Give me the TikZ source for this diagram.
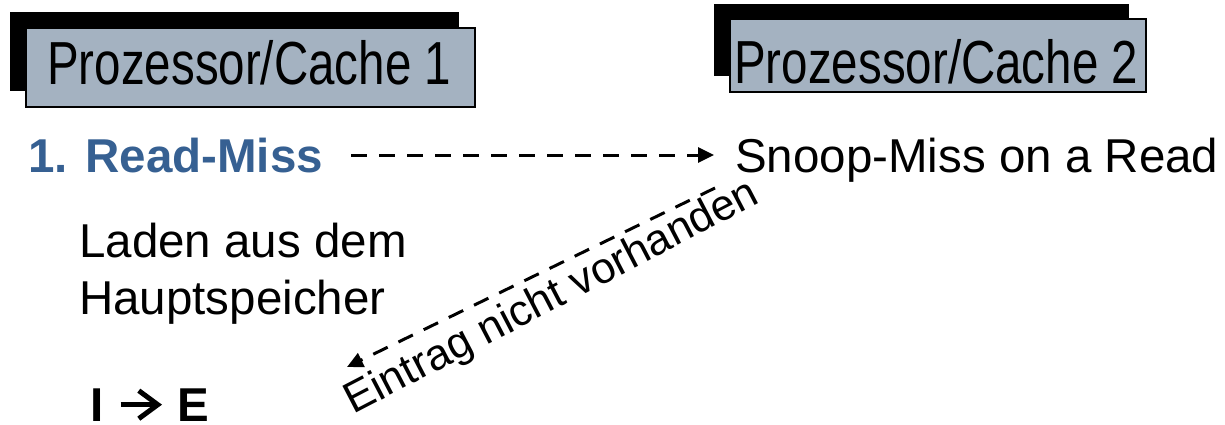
\documentclass[tikz,border=0pt]{standalone}
\usepackage{fontspec}
\setmainfont{Liberation Sans}
\usetikzlibrary{arrows.meta}
\definecolor{boxgray}{RGB}{164,178,193}
\definecolor{headblue}{RGB}{54,96,146}
\tikzset{
  shadowbox/.style={fill=black},
  grayface/.style={fill=boxgray, draw=black, line width=1.5pt},
  big/.style={font=\fontsize{47.5}{57}\selectfont, inner sep=0pt},
  bigbold/.style={big, font=\fontsize{47.5}{57}\selectfont\bfseries},
  msg/.style={dash pattern=on 16pt off 12pt, line width=3pt,
              -{Triangle[length=16pt,width=15pt]}},
  transition/.style={line width=5pt,
              -{Straight Barb[length=19pt,width=28pt]}}
}
\begin{document}
\begin{tikzpicture}[x=1pt, y=-1pt]
  \useasboundingbox (0,0) rectangle (1225,425);

  % processor/cache 1
  \fill[shadowbox] (10,12) rectangle (459,91);
  \filldraw[grayface] (26,28) rectangle (475,107);
  \node[big, anchor=base west] (pc1) at (47,85)
    {\scalebox{1}[1.28]{Prozessor/Cache 1}};

  % processor/cache 2
  \fill[shadowbox] (714,4) rectangle (1129,76);
  \filldraw[grayface] (730,19) rectangle (1146,92);
  \node[big, anchor=base west] (pc2) at (734,84)
    {\scalebox{1}[1.28]{Prozessor/Cache 2}};

  % events
  \node[bigbold, anchor=base west, text=headblue] (rm) at (28,172) {1. Read-Miss};
  \node[big, anchor=base west] (snoop) at (735,172) {Snoop-Miss on a Read};

  \node[big, anchor=north west, align=left] (load) at (79,223)
    {Laden aus dem\\Hauptspeicher};

  % state change I -> E
  \node[bigbold, anchor=base west] (stI) at (90,421) {I};
  \node[bigbold, anchor=base west] (stE) at (177,421) {E};
  \draw[transition] ([xshift=17pt]stI.east) -- ([xshift=-15pt]stE.west);

  % messages
  \draw[msg] ([xshift=28pt]rm.east) -- (snoop.west |- rm.east)
    [shorten >=21pt];
  \coordinate (ans) at (715,188);
  \coordinate (ane) at (347,367);
  \draw[msg] (ans) -- (ane);
  \node[inner sep=0pt, rotate=27.5, anchor=base west,
        font=\fontsize{43.5}{50}\selectfont] (lbl) at (353.5,414.5)
    {Eintrag nicht vorhanden};
\end{tikzpicture}
\end{document}
